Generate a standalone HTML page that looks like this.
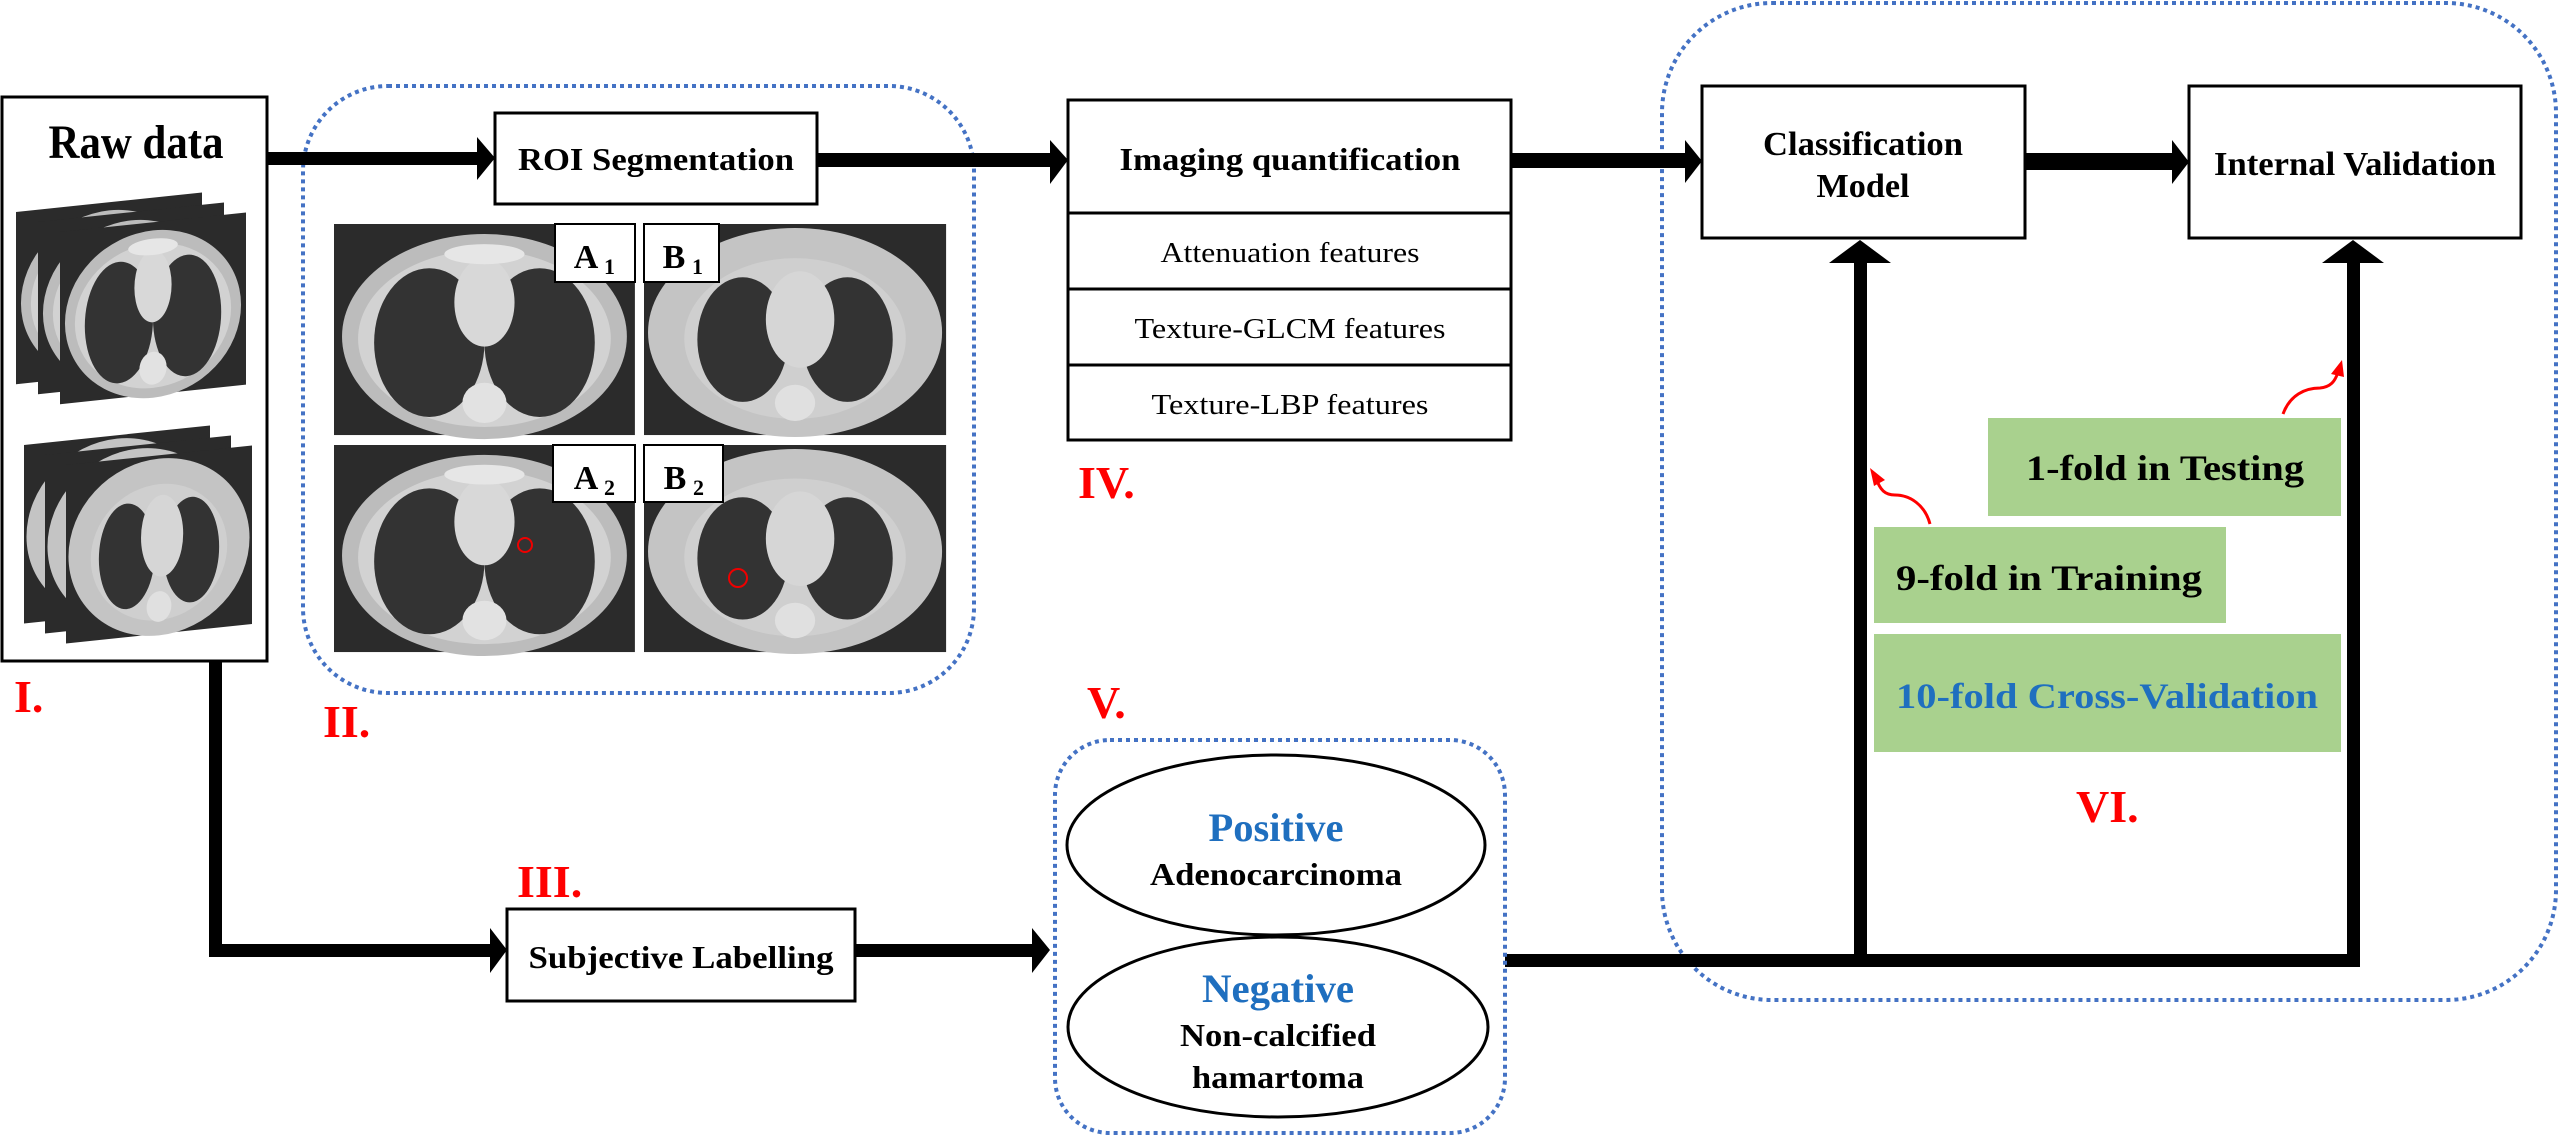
<!DOCTYPE html>
<html><head><meta charset="utf-8"><style>
html,body{margin:0;padding:0;background:#fff;}
svg{display:block;}
text{font-family:"Liberation Serif",serif;}
</style></head><body>
<svg width="2559" height="1136" viewBox="0 0 2559 1136" xmlns="http://www.w3.org/2000/svg">
<defs>
<g id="ct">
<rect x="0" y="0" width="300" height="210" fill="#2b2b2b"/>
<ellipse cx="150" cy="112" rx="142" ry="102" fill="#bcbcbc"/>
<ellipse cx="150" cy="114" rx="126" ry="88" fill="#d2d2d2"/>
<ellipse cx="95" cy="118" rx="55" ry="74" fill="#333"/>
<ellipse cx="205" cy="118" rx="55" ry="74" fill="#333"/>
<ellipse cx="150" cy="78" rx="30" ry="44" fill="#d8d8d8"/>
<ellipse cx="150" cy="178" rx="22" ry="20" fill="#e2e2e2"/>
<ellipse cx="150" cy="30" rx="40" ry="10" fill="#e6e6e6"/>
</g>
<g id="ct2">
<rect x="0" y="0" width="300" height="210" fill="#2b2b2b"/>
<ellipse cx="150" cy="108" rx="146" ry="104" fill="#c4c4c4"/>
<ellipse cx="150" cy="114" rx="110" ry="80" fill="#cfcfcf"/>
<ellipse cx="98" cy="115" rx="45" ry="62" fill="#333"/>
<ellipse cx="202" cy="115" rx="45" ry="62" fill="#333"/>
<ellipse cx="155" cy="95" rx="34" ry="48" fill="#d6d6d6"/>
<ellipse cx="150" cy="178" rx="20" ry="18" fill="#e0e0e0"/>
</g>
</defs>

<!-- Raw data box -->
<rect x="2" y="97" width="265" height="564" fill="#fff" stroke="#000" stroke-width="3"/>
<text x="136" y="158" font-size="48" font-weight="bold" text-anchor="middle" textLength="175" lengthAdjust="spacingAndGlyphs">Raw data</text>
<g transform="translate(16,212) skewY(-6) scale(0.62,0.82)"><use href="#ct"/></g>
<g transform="translate(38,222) skewY(-6) scale(0.62,0.82)"><use href="#ct"/></g>
<g transform="translate(60,232) skewY(-6) scale(0.62,0.82)"><use href="#ct"/></g>
<g transform="translate(24,445) skewY(-6) scale(0.62,0.85)"><use href="#ct2"/></g>
<g transform="translate(45,455) skewY(-6) scale(0.62,0.85)"><use href="#ct2"/></g>
<g transform="translate(66,465) skewY(-6) scale(0.62,0.85)"><use href="#ct2"/></g>

<!-- II dotted -->
<rect x="303" y="86" width="671" height="607" rx="85" ry="85" fill="none" stroke="#4472c4" stroke-width="4" stroke-dasharray="4 4"/>
<!-- CT images -->
<g transform="translate(334,224) scale(1.003,1.005)"><use href="#ct"/></g>
<g transform="translate(644,224) scale(1.007,1.005)"><use href="#ct2"/></g>
<g transform="translate(334,445) scale(1.003,0.986)"><use href="#ct"/></g>
<g transform="translate(644,445) scale(1.007,0.986)"><use href="#ct2"/></g>
<circle cx="525" cy="545" r="7" fill="none" stroke="#e00" stroke-width="2"/>
<circle cx="738" cy="578" r="9" fill="none" stroke="#e00" stroke-width="2"/>
<!-- sub labels -->
<rect x="555" y="224" width="80" height="58" fill="#fff" stroke="#000" stroke-width="2"/>
<text x="586" y="268" font-size="34" font-weight="bold" text-anchor="middle">A</text><text x="604" y="274" font-size="22" font-weight="bold">1</text>
<rect x="644" y="224" width="75" height="58" fill="#fff" stroke="#000" stroke-width="2"/>
<text x="674" y="268" font-size="34" font-weight="bold" text-anchor="middle">B</text><text x="692" y="274" font-size="22" font-weight="bold">1</text>
<rect x="553" y="445" width="82" height="57" fill="#fff" stroke="#000" stroke-width="2"/>
<text x="586" y="489" font-size="34" font-weight="bold" text-anchor="middle">A</text><text x="604" y="495" font-size="22" font-weight="bold">2</text>
<rect x="644" y="445" width="79" height="57" fill="#fff" stroke="#000" stroke-width="2"/>
<text x="675" y="489" font-size="34" font-weight="bold" text-anchor="middle">B</text><text x="693" y="495" font-size="22" font-weight="bold">2</text>

<!-- ROI box -->
<rect x="495" y="113" width="322" height="91" fill="#fff" stroke="#000" stroke-width="3"/>
<text x="656" y="170" font-size="32" font-weight="bold" text-anchor="middle" textLength="276" lengthAdjust="spacingAndGlyphs">ROI Segmentation</text>

<!-- Imaging quantification -->
<rect x="1068" y="100" width="443" height="340" fill="#fff" stroke="#000" stroke-width="3"/>
<line x1="1068" y1="213" x2="1511" y2="213" stroke="#000" stroke-width="3"/>
<line x1="1068" y1="289" x2="1511" y2="289" stroke="#000" stroke-width="3"/>
<line x1="1068" y1="365" x2="1511" y2="365" stroke="#000" stroke-width="3"/>
<text x="1290" y="170" font-size="32" font-weight="bold" text-anchor="middle" textLength="341" lengthAdjust="spacingAndGlyphs">Imaging quantification</text>
<text x="1290" y="262" font-size="28" text-anchor="middle" textLength="259" lengthAdjust="spacingAndGlyphs">Attenuation features</text>
<text x="1290" y="338" font-size="28" text-anchor="middle" textLength="311" lengthAdjust="spacingAndGlyphs">Texture-GLCM features</text>
<text x="1290" y="414" font-size="28" text-anchor="middle" textLength="277" lengthAdjust="spacingAndGlyphs">Texture-LBP features</text>

<!-- VI dotted -->
<rect x="1662" y="3" width="894" height="997" rx="110" ry="110" fill="none" stroke="#4472c4" stroke-width="4" stroke-dasharray="4 4"/>

<!-- Classification / Internal -->
<rect x="1702" y="86" width="323" height="152" fill="#fff" stroke="#000" stroke-width="3"/>
<text x="1863" y="155" font-size="34" font-weight="bold" text-anchor="middle" textLength="200" lengthAdjust="spacingAndGlyphs">Classification</text>
<text x="1863" y="197" font-size="34" font-weight="bold" text-anchor="middle" textLength="93" lengthAdjust="spacingAndGlyphs">Model</text>
<rect x="2189" y="86" width="332" height="152" fill="#fff" stroke="#000" stroke-width="3"/>
<text x="2355" y="175" font-size="34" font-weight="bold" text-anchor="middle" textLength="282" lengthAdjust="spacingAndGlyphs">Internal Validation</text>

<!-- Arrows -->
<rect x="267" y="152" width="212" height="13" fill="#000"/>
<polygon points="477,137 495,158 477,180" fill="#000"/>
<rect x="817" y="153" width="235" height="14" fill="#000"/>
<polygon points="1050,140 1068,160 1050,184" fill="#000"/>
<rect x="1511" y="153" width="176" height="15" fill="#000"/>
<polygon points="1685,140 1702,161 1685,183" fill="#000"/>
<rect x="2025" y="153" width="149" height="17" fill="#000"/>
<polygon points="2172,140 2189,162 2172,184" fill="#000"/>

<rect x="1854" y="258" width="13" height="708" fill="#000"/>
<polygon points="1829,263 1860,240 1891,263" fill="#000"/>
<rect x="2347" y="258" width="13" height="708" fill="#000"/>
<polygon points="2322,263 2353,240 2384,263" fill="#000"/>
<rect x="1505" y="954" width="855" height="13" fill="#000"/>

<rect x="209" y="660" width="13" height="297" fill="#000"/>
<rect x="209" y="944" width="283" height="13" fill="#000"/>
<polygon points="490,928 507,950 490,973" fill="#000"/>
<rect x="855" y="944" width="179" height="13" fill="#000"/>
<polygon points="1032,928 1050,950 1032,973" fill="#000"/>

<!-- Subjective -->
<rect x="507" y="909" width="348" height="92" fill="#fff" stroke="#000" stroke-width="3"/>
<text x="681" y="968" font-size="32" font-weight="bold" text-anchor="middle" textLength="305" lengthAdjust="spacingAndGlyphs">Subjective Labelling</text>

<!-- V -->
<rect x="1055" y="740" width="450" height="393" rx="55" ry="55" fill="none" stroke="#4472c4" stroke-width="4" stroke-dasharray="4 4"/>
<ellipse cx="1276" cy="845" rx="209" ry="90" fill="#fff" stroke="#000" stroke-width="3"/>
<ellipse cx="1278" cy="1027" rx="210" ry="90" fill="#fff" stroke="#000" stroke-width="3"/>
<text x="1276" y="841" font-size="40" font-weight="bold" fill="#1f6fbf" text-anchor="middle" textLength="135" lengthAdjust="spacingAndGlyphs">Positive</text>
<text x="1276" y="885" font-size="32" font-weight="bold" text-anchor="middle" textLength="252" lengthAdjust="spacingAndGlyphs">Adenocarcinoma</text>
<text x="1278" y="1002" font-size="40" font-weight="bold" fill="#1f6fbf" text-anchor="middle" textLength="152" lengthAdjust="spacingAndGlyphs">Negative</text>
<text x="1278" y="1046" font-size="32" font-weight="bold" text-anchor="middle" textLength="196" lengthAdjust="spacingAndGlyphs">Non-calcified</text>
<text x="1278" y="1088" font-size="32" font-weight="bold" text-anchor="middle" textLength="172" lengthAdjust="spacingAndGlyphs">hamartoma</text>

<!-- Green boxes -->
<rect x="1988" y="418" width="353" height="98" fill="#a9d18e"/>
<rect x="1874" y="527" width="352" height="96" fill="#a9d18e"/>
<rect x="1874" y="634" width="467" height="118" fill="#a9d18e"/>
<text x="2026" y="480" font-size="36" font-weight="bold" textLength="278" lengthAdjust="spacingAndGlyphs">1-fold in Testing</text>
<text x="1896" y="590" font-size="36" font-weight="bold" textLength="306" lengthAdjust="spacingAndGlyphs">9-fold in Training</text>
<text x="1896" y="708" font-size="36" font-weight="bold" fill="#1f6fbf" textLength="422" lengthAdjust="spacingAndGlyphs">10-fold Cross-Validation</text>

<!-- red curvy arrows -->
<path d="M1930,524 C1925,505 1910,495 1895,495 C1885,495 1880,490 1876,478" fill="none" stroke="#f00" stroke-width="3"/>
<polygon points="1870,468 1885,480 1874,486" fill="#f00"/>
<path d="M2283,414 C2290,395 2305,388 2320,388 C2330,387 2335,382 2338,372" fill="none" stroke="#f00" stroke-width="3"/>
<polygon points="2342,360 2344,377 2331,374" fill="#f00"/>

<!-- Section labels -->
<g fill="#f00" font-weight="bold" font-size="46">
<text x="14" y="712">I.</text>
<text x="323" y="737">II.</text>
<text x="517" y="897">III.</text>
<text x="1078" y="498">IV.</text>
<text x="1087" y="718">V.</text>
<text x="2076" y="822">VI.</text>
</g>
</svg>
</body></html>
